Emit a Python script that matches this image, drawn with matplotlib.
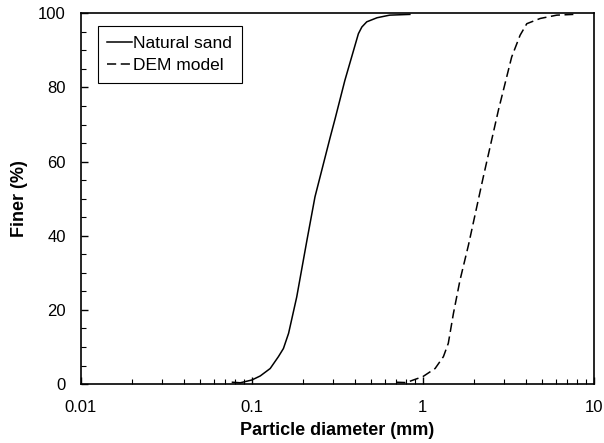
import matplotlib.pyplot as plt
from matplotlib.ticker import LogLocator, MultipleLocator, FixedLocator, FixedFormatter, NullFormatter

plt.rcParams['font.family'] = ['Liberation Sans', 'DejaVu Sans']

# grain size distribution
natural_d = [0.077, 0.0855, 0.1, 0.112, 0.128, 0.143, 0.153, 0.164, 0.183, 0.21,
             0.234, 0.287, 0.307, 0.35, 0.42, 0.44, 0.47, 0.54, 0.64, 0.84]
natural_p = [0.5, 0.35, 1.1, 2.2, 4.2, 7.4, 9.6, 13.7, 23.5, 38.8,
             50.5, 66.5, 71.6, 81.9, 94.5, 96.3, 97.7, 98.8, 99.5, 99.7]

dem_d = [0.70, 0.80, 0.88, 1.0, 1.18, 1.32, 1.41, 1.51, 1.65, 1.85,
         2.11, 2.26, 2.77, 3.31, 3.71, 4.06, 4.86, 6.08, 7.6]
dem_p = [0.5, 0.4, 1.1, 2.0, 4.2, 7.4, 11, 19, 28, 37.5,
         49.6, 55.9, 73.9, 88.2, 94.1, 97.2, 98.6, 99.5, 99.7]

x_ticks = [0.01, 0.1, 1, 10]
x_labels = ['0.01', '0.1', '1', '10']

fig = plt.figure(figsize=(6.04, 4.43), dpi=100)
ax = fig.add_axes([0.134, 0.133, 0.849, 0.837])

ax.plot(natural_d, natural_p, color='k', lw=1.1, label='Natural sand')
ax.plot(dem_d, dem_p, color='k', lw=1.1, dashes=(6, 3), label='DEM model')

ax.set_xscale('log')
ax.set_xlim(0.01, 10)
ax.set_ylim(0, 100)
ax.xaxis.set_major_locator(FixedLocator(x_ticks))
ax.xaxis.set_major_formatter(FixedFormatter(x_labels))
ax.xaxis.set_minor_locator(LogLocator(base=10, subs=range(2, 10)))
ax.xaxis.set_minor_formatter(NullFormatter())
ax.yaxis.set_major_locator(MultipleLocator(20))
ax.yaxis.set_minor_locator(MultipleLocator(5))

ax.tick_params(which='both', direction='in', labelsize=12, color='k')
ax.tick_params(which='major', length=5, width=1)
ax.tick_params(which='minor', length=3.5, width=0.8)
ax.tick_params(axis='x', which='major', pad=11.5)
ax.tick_params(axis='y', which='major', pad=11)
for sp in ax.spines.values():
    sp.set_linewidth(1.2)

ax.set_xlabel('Particle diameter (mm)', fontsize=13, fontweight='bold', labelpad=5)
ax.set_ylabel('Finer (%)', fontsize=13, fontweight='bold', labelpad=7)

leg = ax.legend(loc='upper left', bbox_to_anchor=(0.033, 0.965), fontsize=12.5,
                fancybox=False, edgecolor='k', framealpha=1, borderaxespad=0,
                handlelength=1.4, handletextpad=0.1, borderpad=0.55,
                labelspacing=0.4)
leg.get_frame().set_linewidth(0.8)

fig.savefig('out.png', dpi=100)
